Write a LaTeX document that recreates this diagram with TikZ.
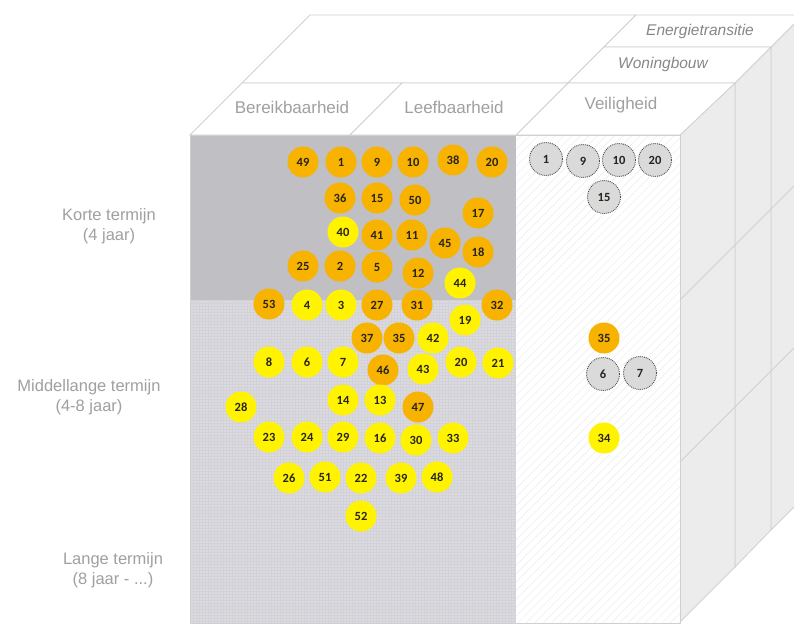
\documentclass[tikz,border=0pt]{standalone}
\usepackage{fontspec}
\setmainfont{Liberation Sans}
\newfontfamily\numfont{Carlito}
\usetikzlibrary{patterns.meta}
\definecolor{edgecol}{RGB}{208,208,208}
\definecolor{sidefill}{RGB}{236,236,236}
\definecolor{topgray}{RGB}{191,191,196}
\definecolor{lowgray}{RGB}{210,210,216}
\definecolor{ballorange}{RGB}{248,178,0}
\definecolor{ballyellow}{RGB}{255,243,0}
\definecolor{ballgray}{RGB}{218,218,218}
\definecolor{hdrcol}{RGB}{160,160,160}
\definecolor{hdritcol}{RGB}{135,135,135}
\definecolor{numtext}{RGB}{40,36,28}
\begin{document}
\begin{tikzpicture}[x=1pt,y=-1pt,
 ball/.style={circle, minimum size=31pt, inner sep=0pt, font=\numfont\bfseries\fontsize{12.5}{12.5}\selectfont, text=numtext},
 ob/.style={ball, fill=ballorange},
 yb/.style={ball, fill=ballyellow},
 gb/.style={ball, fill=ballgray, draw=black!70, densely dotted, line width=0.9pt, minimum size=33pt},
 hdr/.style={font=\fontsize{17}{17}\selectfont, text=hdrcol},
 hdrit/.style={font=\itshape\fontsize{15.5}{15.5}\selectfont, text=hdritcol},
 sidelabel/.style={text=hdrcol, align=center, font=\fontsize{16.5}{20}\selectfont},
 edgeline/.style={draw=edgecol, line width=0.8pt}]

\fill[white] (0,0) rectangle (794,623);
\useasboundingbox (0,0) rectangle (794,623);
\clip (0,0) rectangle (794,623);

% side faces of the three slabs
\filldraw[edgeline, fill=sidefill] (771,47) -- (803,15) -- (803,498) -- (771,530) -- cycle;
\filldraw[edgeline, fill=sidefill] (735,83) -- (771,47) -- (771,530) -- (735,567) -- cycle;
\filldraw[edgeline, fill=sidefill] (680,135) -- (735,83) -- (735,567) -- (680,622) -- cycle;
\draw[edgeline] (680,300) -- (794,186);
\draw[edgeline] (680,462) -- (794,348);

% top faces
\filldraw[edgeline, fill=white] (310,15) -- (636,15) -- (568,83) -- (242,83) -- cycle;
\filldraw[edgeline, fill=white] (636,15) -- (803,15) -- (771,47) -- (604,47) -- cycle;
\filldraw[edgeline, fill=white] (604,47) -- (771,47) -- (735,83) -- (568,83) -- cycle;
\filldraw[edgeline, fill=white] (568,83) -- (735,83) -- (680,135) -- (516,135) -- cycle;
\filldraw[edgeline, fill=white] (242,83) -- (402,83) -- (350,135) -- (190,135) -- cycle;
\filldraw[edgeline, fill=white] (402,83) -- (568,83) -- (516,135) -- (350,135) -- cycle;

% front face
\fill[topgray] (190,135) rectangle (516,300);
\fill[lowgray] (190,300) rectangle (516,623);
\fill[pattern={Dots[distance=3pt,radius=0.55pt]}, pattern color=white!85!lowgray] (190,300) rectangle (516,623);
\fill[white] (516,135) rectangle (680,623);
\fill[pattern={Lines[angle=45,distance=6pt,line width=0.5pt]}, pattern color=black!7] (516,135) rectangle (680,623);
\draw[edgeline] (190,135) rectangle (680,623);

% headers
\node[hdr] (bereik) at (292,107) {Bereikbaarheid};
\node[hdr] (leef) at (454,107) {Leefbaarheid};
\node[hdr] (veil) at (621,105) {Veiligheid};
\node[hdrit] (woning) at (663,64) {Woningbouw};
\node[hdrit] (energie) at (700,31) {Energietransitie};

% time labels
\node[sidelabel] (korte) at (109,226) {Korte termijn\\(4 jaar)};
\node[sidelabel] (middel) at (89,397) {Middellange termijn\\(4-8 jaar)};
\node[sidelabel] (lange) at (113,570) {Lange termijn\\(8 jaar - ...)};

% short term
\node[ob] (b49) at (303,162) {49};
\node[ob] (b1) at (341,162) {1};
\node[ob] (b9) at (377,162) {9};
\node[ob] (b10) at (413,162) {10};
\node[ob] (b38) at (453,160) {38};
\node[ob] (b20a) at (492,162) {20};
\node[ob] (b36) at (340,198) {36};
\node[ob] (b15) at (377,198) {15};
\node[ob] (b50) at (415,200) {50};
\node[ob] (b17) at (478,213) {17};
\node[yb] (b40) at (343,232) {40};
\node[ob] (b41) at (377,235) {41};
\node[ob] (b11) at (412,235) {11};
\node[ob] (b45) at (445,243) {45};
\node[ob] (b18) at (478,252) {18};
\node[ob] (b25) at (303,266) {25};
\node[ob] (b2) at (340,266) {2};
\node[ob] (b5) at (377,267) {5};
\node[ob] (b12) at (418,273) {12};
\node[yb] (b44) at (460,283) {44};

% medium term
\node[ob] (b53) at (269,304) {53};
\node[yb] (b4) at (307,305) {4};
\node[yb] (b3) at (341,305) {3};
\node[ob] (b27) at (377,305) {27};
\node[ob] (b31) at (417,305) {31};
\node[ob] (b32) at (497,305) {32};
\node[yb] (b19) at (465,320) {19};
\node[ob] (b37) at (367,338) {37};
\node[ob] (b35a) at (399,338) {35};
\node[yb] (b42) at (433,338) {42};
\node[yb] (b8) at (269,362) {8};
\node[yb] (b6a) at (307,362) {6};
\node[yb] (b7a) at (343,362) {7};
\node[ob] (b46) at (383,370) {46};
\node[yb] (b43) at (423,369) {43};
\node[yb] (b20b) at (461,362) {20};
\node[yb] (b21) at (498,363) {21};
\node[yb] (b28) at (241,407) {28};
\node[yb] (b14) at (343,400) {14};
\node[yb] (b13) at (380,400) {13};
\node[ob] (b47) at (418,407) {47};
\node[yb] (b23) at (269,437) {23};
\node[yb] (b24) at (307,437) {24};
\node[yb] (b29) at (343,437) {29};
\node[yb] (b16) at (380,438) {16};
\node[yb] (b30) at (416,440) {30};
\node[yb] (b33) at (453,438) {33};
\node[yb] (b26) at (289,478) {26};
\node[yb] (b51) at (325,477) {51};
\node[yb] (b22) at (361,478) {22};
\node[yb] (b39) at (401,478) {39};
\node[yb] (b48) at (437,477) {48};
\node[yb] (b52) at (361,516) {52};

% Veiligheid column
\node[gb] (v1) at (546,159) {1};
\node[gb] (v9) at (583,161) {9};
\node[gb] (v10) at (619,160) {10};
\node[gb] (v20) at (655,160) {20};
\node[gb] (v15) at (604,197) {15};
\node[ob] (v35) at (604,338) {35};
\node[gb] (v6) at (603,374) {6};
\node[gb] (v7) at (640,373) {7};
\node[yb] (v34) at (604,438) {34};
\end{tikzpicture}
\end{document}
